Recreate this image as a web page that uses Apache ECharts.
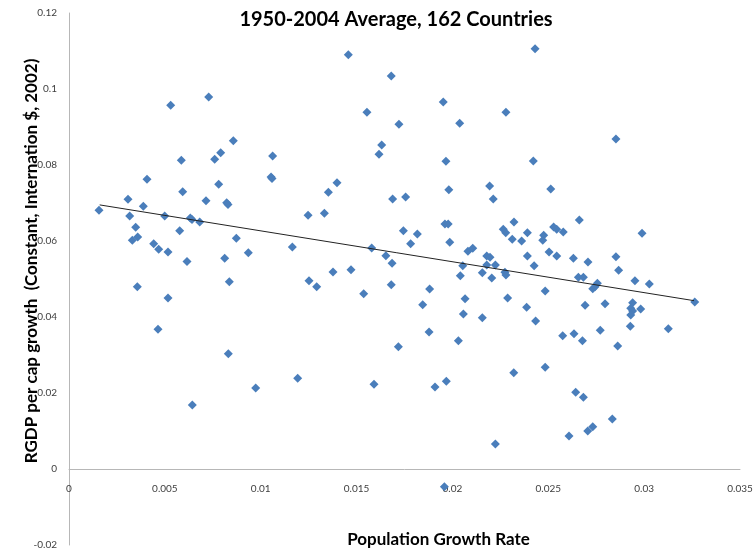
<!DOCTYPE html>
<html>
<head>
<meta charset="utf-8">
<script src="https://cdn.jsdelivr.net/npm/echarts@6/dist/echarts.min.js"></script>
<style>
  html, body { margin: 0; padding: 0; background: #fff; }
  #chart { width: 754px; height: 553px; }
</style>
</head>
<body>
<div id="chart"></div>
<script>
// population growth rate (x) and RGDP per cap growth (y), one entry per country
const popGrowth = [
  0.005305, 0.007287, 0.008570, 0.007913, 0.007600, 0.005858, 0.004068, 0.007808, 0.005931, 0.003077,
  0.007146, 0.008226, 0.008293, 0.003876, 0.001565, 0.003166, 0.004992, 0.006327, 0.006416, 0.006817,
  0.003479, 0.008727, 0.005774, 0.003583, 0.003302, 0.004418, 0.004679, 0.005164, 0.008121, 0.006155,
  0.008361, 0.003563, 0.005164, 0.004642, 0.008309, 0.006432,
  0.01457, 0.01681, 0.01554, 0.01721, 0.01631, 0.01617, 0.01062, 0.01054, 0.01059, 0.01398,
  0.01353, 0.01688, 0.01247, 0.01332, 0.009352, 0.01165, 0.01579, 0.01653, 0.01685, 0.01252,
  0.01292, 0.01377, 0.01471, 0.01537, 0.01681, 0.01718, 0.009738, 0.01193, 0.01591,
  0.02431, 0.01952, 0.02279, 0.02038, 0.01966, 0.02422, 0.02194, 0.01981, 0.02513, 0.01756,
  0.02213, 0.01961, 0.01978, 0.02321, 0.01744, 0.01817, 0.02265, 0.02278, 0.02391, 0.02528,
  0.02544, 0.02476, 0.02471, 0.02312, 0.02361, 0.01782, 0.01986, 0.02081, 0.02106, 0.02179,
  0.02196, 0.02391, 0.02504, 0.02544, 0.02054, 0.02041, 0.02179, 0.02224, 0.02156, 0.02205,
  0.02274, 0.02279, 0.02426, 0.02484, 0.01881, 0.01845, 0.02066, 0.02288, 0.02387, 0.02057,
  0.02156, 0.02434, 0.01878, 0.02031, 0.02484, 0.02320, 0.01909, 0.01968, 0.02224, 0.01958,
  0.02853, 0.02662, 0.02578, 0.02989, 0.02631, 0.02853, 0.02707, 0.02867, 0.02657, 0.02683,
  0.02756, 0.02732, 0.02744, 0.02952, 0.03027, 0.03264, 0.02692, 0.02796, 0.02940, 0.02930,
  0.02940, 0.02930, 0.02982, 0.02928, 0.03126, 0.02575, 0.02634, 0.02678, 0.02771, 0.02862,
  0.02643, 0.02683, 0.02834, 0.02732, 0.02706, 0.02608
];
const gdpGrowth = [
  0.09571, 0.09789, 0.08639, 0.08324, 0.08150, 0.08124, 0.07624, 0.07492, 0.07297, 0.07097,
  0.07061, 0.07008, 0.06961, 0.06913, 0.06808, 0.06658, 0.06658, 0.06605, 0.06566, 0.06500,
  0.06361, 0.06071, 0.06271, 0.06105, 0.06018, 0.05929, 0.05782, 0.05711, 0.05545, 0.05461,
  0.04929, 0.04797, 0.04500, 0.03676, 0.03034, 0.01684,
  0.1090, 0.1034, 0.09387, 0.09071, 0.08526, 0.08282, 0.08237, 0.07684, 0.07645, 0.07534,
  0.07282, 0.07105, 0.06676, 0.06729, 0.05692, 0.05842, 0.05816, 0.05613, 0.05413, 0.04955,
  0.04797, 0.05184, 0.05245, 0.04613, 0.04850, 0.03218, 0.02132, 0.02387, 0.02229,
  0.1106, 0.09658, 0.09387, 0.09097, 0.08097, 0.08105, 0.07447, 0.07350, 0.07368, 0.07158,
  0.07105, 0.06447, 0.06447, 0.06500, 0.06271, 0.06184, 0.06308, 0.06218, 0.06218, 0.06368,
  0.06308, 0.06150, 0.06018, 0.06045, 0.06000, 0.05929, 0.05966, 0.05729, 0.05808, 0.05605,
  0.05571, 0.05605, 0.05711, 0.05605, 0.05350, 0.05087, 0.05368, 0.05368, 0.05166, 0.05026,
  0.05176, 0.05105, 0.05350, 0.04684, 0.04737, 0.04324, 0.04482, 0.04500, 0.04255, 0.04079,
  0.03982, 0.03895, 0.03605, 0.03376, 0.02676, 0.02534, 0.02158, 0.02308, 0.00658, -0.00466,
  0.08684, 0.06553, 0.06237, 0.06203, 0.05545, 0.05587, 0.05447, 0.05229, 0.05045, 0.05045,
  0.04887, 0.04745, 0.04797, 0.04955, 0.04868, 0.04395, 0.04308, 0.04350, 0.04376, 0.04229,
  0.04158, 0.04053, 0.04211, 0.03755, 0.03692, 0.03508, 0.03561, 0.03376, 0.03650, 0.03237,
  0.02018, 0.01887, 0.01316, 0.01113, 0.01000, 0.00868
];

// linear trend line end points
const trendX = [0.0016, 0.0326];
const trendY = [0.0695, 0.0443];

const titleText = '1950-2004 Average, 162 Countries';
const xName = 'Population Growth Rate';
const yName = 'RGDP per cap growth  (Constant, Internation $, 2002)';

const points = popGrowth.map((x, i) => [x, gdpGrowth[i]]);
const trend = trendX.map((x, i) => [x, trendY[i]]);

const fontFam = 'Lato, "Open Sans", sans-serif';

const chart = echarts.init(document.getElementById('chart'));
chart.setOption({
  animation: false,
  title: {
    text: titleText,
    left: 391,
    textAlign: 'center',
    top: 5,
    textStyle: { fontFamily: fontFam, fontSize: 20, fontWeight: 'bold', color: '#000' }
  },
  grid: { left: 69, right: 14, top: 13, bottom: 8, containLabel: false, outerBoundsMode: 'none' },
  xAxis: {
    type: 'value',
    min: 0,
    max: 0.035,
    interval: 0.005,
    name: xName,
    nameLocation: 'middle',
    nameGap: 62,
    nameTextStyle: { fontFamily: fontFam, fontSize: 17, fontWeight: 'bold', color: '#000', padding: [0, 0, 0, 68] },
    axisLine: { show: true, onZero: false, lineStyle: { color: '#b7b7b7', width: 1 } },
    axisTick: { show: false },
    splitLine: { show: false },
    axisLabel: { margin: 15, fontFamily: fontFam, fontSize: 10, color: '#404040' }
  },
  yAxis: {
    type: 'value',
    min: -0.02,
    max: 0.12,
    interval: 0.02,
    name: yName,
    nameLocation: 'middle',
    nameRotate: 90,
    nameGap: 29,
    nameMoveOverlap: false,
    nameTextStyle: { fontFamily: fontFam, fontSize: 17, fontWeight: 'bold', color: '#000', padding: [0, 0, 0, 36] },
    axisLine: { show: true, lineStyle: { color: '#b7b7b7', width: 1 } },
    axisTick: { show: false },
    splitLine: { show: false },
    axisLabel: { margin: 12, fontFamily: fontFam, fontSize: 10, color: '#404040' }
  },
  series: [
    {
      name: 'countries',
      type: 'scatter',
      symbol: 'diamond',
      symbolSize: 9,
      itemStyle: { color: '#4a7ebb', opacity: 1 },
      data: points,
      z: 2
    },
    {
      name: 'trend',
      type: 'line',
      data: trend,
      symbol: 'none',
      lineStyle: { color: '#222', width: 1 },
      z: 3
    }
  ]
});

// move the x axis (line, labels, name) up to where y = 0 sits
const zeroY = chart.convertToPixel({ gridIndex: 0 }, [0, 0])[1];
const bottomY = chart.convertToPixel({ gridIndex: 0 }, [0, -0.02])[1];
chart.setOption({ xAxis: { offset: zeroY - bottomY } });
</script>
</body>
</html>
